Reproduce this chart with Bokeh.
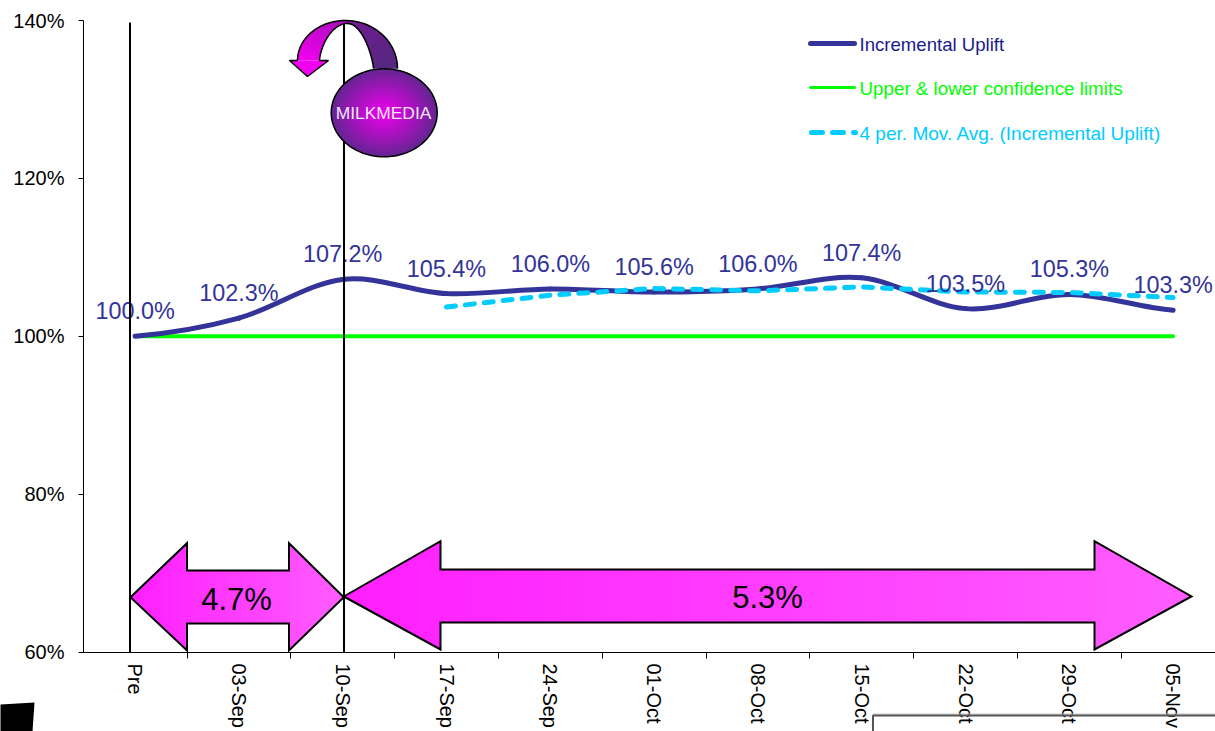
import numpy as np
from bokeh.core.properties import value
from bokeh.embed import file_html
from bokeh.models import FixedTicker, Range1d
from bokeh.plotting import figure
from bokeh.resources import INLINE

# Weekly series, percent of the pre-campaign level
categories = ["Pre", "03-Sep", "10-Sep", "17-Sep", "24-Sep", "01-Oct",
              "08-Oct", "15-Oct", "22-Oct", "29-Oct", "05-Nov"]
uplift = [100.0, 102.3, 107.2, 105.4, 106.0, 105.6, 106.0, 107.4, 103.5, 105.3, 103.3]
limits = [100.0] * 11
moving_avg = [103.7, 105.2, 106.05, 105.75, 106.25, 105.6, 105.55, 104.9]
moving_avg_start = 3
y_ticks = [60, 80, 100, 120, 140]
y_tick_labels = ["60%", "80%", "100%", "120%", "140%"]
phase_labels = ["4.7%", "5.3%"]
legend_labels = ["Incremental Uplift", "Upper & lower confidence limits",
                 "4 per. Mov. Avg. (Incremental Uplift)"]

W, H = 1215, 731
LEFT, BASE = 83, 652          # frame left edge and bottom edge, page pixels
ROW_60, ROW_140 = 651.5, 20.0 # page rows of the 60% and 140% ticks
CAT0, STEP = 134.6, 103.8     # centre of the first category and category pitch
PX_PER_PCT = (ROW_60 - ROW_140) / 80.0
FONT = "Liberation Sans"
NAVY, GREEN, CYAN = "#333399", "#00FF00", "#00CCFF"


# Overlaid drawings (arrows, callout, legend) are laid out in page pixels
def px(x):
    return (np.asarray(x, dtype=float) - CAT0) / STEP


def py(y):
    return 60 + (ROW_60 - np.asarray(y, dtype=float)) / PX_PER_PCT


def mix(a, b, t):
    ca = [int(a[i:i + 2], 16) for i in (1, 3, 5)]
    cb = [int(b[i:i + 2], 16) for i in (1, 3, 5)]
    return "#%02x%02x%02x" % tuple(round(u + (v - u) * t) for u, v in zip(ca, cb))


p = figure(width=W, height=H, output_backend="svg", toolbar_location=None,
           x_range=Range1d(px(LEFT), px(W)), y_range=Range1d(py(BASE), py(0)),
           min_border_left=LEFT, min_border_right=0, min_border_top=0,
           min_border_bottom=H - BASE, outline_line_color=None,
           background_fill_color="white", border_fill_color="white")
p.grid.visible = False

idx = np.arange(len(categories), dtype=float)

xa = p.xaxis[0]
xa.ticker = FixedTicker(ticks=list(idx), minor_ticks=list(idx - 0.5) + [idx[-1] + 0.5])
xa.major_label_overrides = {int(i): c for i, c in enumerate(categories)}
xa.major_label_orientation = -np.pi / 2
xa.major_label_text_font = FONT
xa.major_label_text_font_size = "20px"
xa.major_label_text_color = "#000000"
xa.major_label_standoff = 5
xa.major_tick_in = xa.major_tick_out = 0
xa.minor_tick_in = 0
xa.minor_tick_out = 6
xa.minor_tick_line_color = "#000000"
xa.axis_line_color = "#000000"

ya = p.yaxis[0]
ya.ticker = FixedTicker(ticks=y_ticks)
ya.bounds = (60, 140)
ya.major_label_overrides = dict(zip(y_ticks, y_tick_labels))
ya.major_label_text_font = FONT
ya.major_label_text_font_size = "20px"
ya.major_label_text_color = "#000000"
ya.major_label_standoff = 14
ya.major_tick_in = 0
ya.major_tick_out = 5
ya.minor_tick_out = 0
ya.minor_tick_in = 0
ya.major_tick_line_color = "#000000"
ya.axis_line_color = "#000000"


def double_arrow(xl, xh0, xh1, xr, yc, yt, yb, st, sb):
    """Horizontal double arrow with a left-to-right tint and a black outline."""
    edges = np.linspace(xl, xr, 61)
    knots_x = [xl, xh0 - 1e-3, xh0, xh1, xh1 + 1e-3, xr]

    def top(x):
        return np.interp(x, knots_x, [yc, yt, st, st, yt, yc])

    def bot(x):
        return np.interp(x, knots_x, [yc, yb, sb, sb, yb, yc])

    for i, (a, b) in enumerate(zip(edges[:-1], edges[1:])):
        end = min(b + 0.8, xr)
        sub = np.array([a] + [v for v in knots_x[1:5] if a < v < end] + [end])
        color = mix("#FF1FFF", "#FF5CFF", i / 59)
        p.patch(px(np.r_[sub, sub[::-1]]), py(np.r_[top(sub), bot(sub)[::-1]]),
                fill_color=color, line_color=None)
    ox = [xl, xh0, xh0, xh1, xh1, xr, xh1, xh1, xh0, xh0, xl]
    oy = [yc, yt, st, st, yt, yc, yb, sb, sb, yb, yc]
    p.line(px(ox), py(oy), line_color="#000000", line_width=2, line_join="miter")


double_arrow(130, 186.5, 288.5, 343.3, 596.8, 542.7, 650, 570, 623)
double_arrow(343.3, 440, 1094, 1191, 596, 540.7, 649, 569, 622)

p.text(px([236, 767]), py([599, 597]), text=phase_labels, text_font=value(FONT),
       text_font_size="31px", text_color="#000000", text_align="center", text_baseline="middle")

# Confidence limit and smoothed uplift curve (Catmull-Rom handles through the weekly values)
p.line(idx, limits, line_color=GREEN, line_width=4, line_cap="round")

u = np.array(uplift)
prev = np.r_[u[0], u[:-1]]
nxt = np.r_[u[1:], u[-1]]
slope = (nxt - prev) / 6.0
p.bezier(x0=idx[:-1], y0=u[:-1], x1=idx[1:], y1=u[1:],
         cx0=idx[:-1] + 1 / 3.0, cy0=u[:-1] + slope[:-1],
         cx1=idx[1:] - 1 / 3.0, cy1=u[1:] - slope[1:],
         line_color=NAVY, line_width=5, line_cap="round")

p.line(idx[moving_avg_start:], moving_avg, line_color=CYAN, line_width=5,
       line_dash="9 10", line_cap="round")

p.text(idx, uplift, text=[f"{v:.1f}%" for v in uplift], text_font=value(FONT),
       text_font_size="23.4px", text_color=NAVY, text_align="center",
       text_baseline="middle", y_offset=-25)

# Event markers run through the value labels
for x_pos in (129.5, 343.5):
    p.line(px([x_pos, x_pos]), py([22, BASE]), line_color="#000000", line_width=2)

# Curved callout arrow, shaded from magenta on the left to dark purple on the right
t_left = np.linspace(np.pi, np.pi / 2, 26)
t_right = np.linspace(np.pi / 2, 0, 22)[1:]
outer_x = np.r_[345 + 48 * np.cos(t_left), 345 + 52 * np.cos(t_right)]
outer_y = np.r_[60 - 40 * np.sin(t_left), 68 - 48 * np.sin(t_right)]
inner_x = np.r_[347 + 28 * np.cos(t_left), 347 + 26 * np.cos(t_right)]
inner_y = np.r_[60 - 37 * np.sin(t_left) ** 1.3, 68 - 45 * np.sin(t_right) ** 1.5]
n_seg = len(outer_x) - 1
for i in range(n_seg):
    t = i / (n_seg - 1)
    if t < 0.5:
        col = mix("#F000F0", "#A810B8", t / 0.5)
    elif t < 0.62:
        col = mix("#A810B8", "#6E1C90", (t - 0.5) / 0.12)
    else:
        col = mix("#6E1C90", "#54287F", (t - 0.62) / 0.38)
    j = min(i + 2, n_seg)
    p.patch(px(np.r_[outer_x[i:j + 1], inner_x[i:j + 1][::-1]]),
            py(np.r_[outer_y[i:j + 1], inner_y[i:j + 1][::-1]]),
            fill_color=col, line_color=None)
head_x = [289, 328, 307]
head_y = [60, 60, 76]
p.patch(px(head_x), py(head_y), fill_color="#F000F0", line_color=None)
p.line(px(np.r_[297, 289, 307, 328, 319, inner_x[1:]]),
       py(np.r_[60, 60, 76, 60, 60, inner_y[1:]]),
       line_color="#000000", line_width=1.5)
p.line(px(outer_x), py(outer_y), line_color="#000000", line_width=1.5)

# Callout bubble: stacked ellipses give the radial shading
bubble_x, bubble_y, bubble_rx, bubble_ry = 383.7, 112.3, 53, 44
angles = np.linspace(0, 2 * np.pi, 90)
for k in np.linspace(1, 0.03, 40):
    col = mix("#622690", "#EE00EE", (1 - k) ** 0.9)
    p.patch(px(bubble_x + k * bubble_rx * np.cos(angles)),
            py(bubble_y + k * bubble_ry * np.sin(angles)),
            fill_color=col, line_color=None)
p.line(px(bubble_x + bubble_rx * np.cos(angles)), py(bubble_y + bubble_ry * np.sin(angles)),
       line_color="#000000", line_width=1.5)
p.text(px([383]), py([112]), text=["MILKMEDIA"], text_font=value(FONT), text_font_size="17.4px",
       text_color="#F4E6FA", text_align="center", text_baseline="middle")

# Legend rows
p.line(px([810, 854]), py([43, 43]), line_color=NAVY, line_width=5, line_cap="round")
p.line(px([810, 854]), py([87, 87]), line_color=GREEN, line_width=3, line_cap="round")
p.line(px([811, 855]), py([132, 132]), line_color=CYAN, line_width=5, line_dash="11 10", line_cap="round")
legend_rows = [43.5, 87.5, 132.5]
legend_colors = ["#1A1A8C", GREEN, CYAN]
legend_sizes = ["18.6px", "18.8px", "19.05px"]
for label, row, color, size in zip(legend_labels, legend_rows, legend_colors, legend_sizes):
    p.text(px([859]), py([row]), text=[label], text_font=value(FONT), text_font_size=size,
           text_color=color, text_baseline="middle")

# Clipped shapes along the bottom edge of the page
p.patch(px([0, 34, 32, 0]), py([704, 702, 731, 731]), fill_color="#000000", line_color=None,
        level="annotation")
p.line(px([872.5, 1215]), py([713.5, 713.5]), line_color="#C4C4C4", line_width=1, level="annotation")
p.line(px([872.5, 872.5, 1215]), py([731, 715, 715]), line_color="#555555", line_width=2,
       level="annotation")

open("out.html", "w").write(file_html(p, INLINE))
